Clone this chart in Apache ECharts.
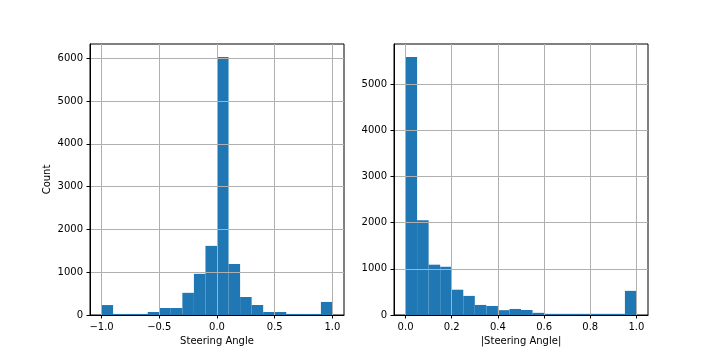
<!DOCTYPE html>
<html>
<head>
<meta charset="utf-8">
<script src="https://cdn.jsdelivr.net/npm/echarts@6/dist/echarts.min.js"></script>
<style>html,body{margin:0;padding:0;background:#fff}#c{width:720px;height:360px}</style>
</head>
<body>
<div id="c"></div>
<script>
// Left histogram: steering angle, 20 bins from -1 to 1
const leftBinEdges = [-1.0,-0.9,-0.8,-0.7,-0.6,-0.5,-0.4,-0.3,-0.2,-0.1,0.0,0.1,0.2,0.3,0.4,0.5,0.6,0.7,0.8,0.9,1.0];
const leftCounts = [232,25,25,25,70,164,164,518,962,1615,6030,1192,421,234,70,70,25,25,25,305];
const leftXTicks = [-1.0,-0.5,0.0,0.5,1.0];
const leftYTicks = [0,1000,2000,3000,4000,5000,6000];

// Right histogram: |steering angle|, 20 bins from 0 to 1
const rightBinEdges = [0.0,0.05,0.1,0.15,0.2,0.25,0.3,0.35,0.4,0.45,0.5,0.55,0.6,0.65,0.7,0.75,0.8,0.85,0.9,0.95,1.0];
const rightCounts = [5592,2055,1090,1045,548,414,218,196,105,131,109,47,25,25,25,25,25,25,25,523];
const rightXTicks = [0.0,0.2,0.4,0.6,0.8,1.0];
const rightYTicks = [0,1000,2000,3000,4000,5000];

const leftXLabel = 'Steering Angle';
const rightXLabel = '|Steering Angle|';
const leftYLabel = 'Count';

function toRows(edges, counts) {
  return counts.map((c, i) => [edges[i], edges[i + 1], c]);
}
function fmt(v) {
  const s = Math.abs(v).toFixed(1);
  return v < 0 ? '\u2212' + s : s;
}
const FONT = 'DejaVu Sans';
const txt = { fontFamily: FONT, fontSize: 10, color: '#000' };

function xAxisOpt(idx, min, max, ticks, name) {
  return {
    type: 'value', gridIndex: idx, min: min, max: max, z: 3,
    name: name, nameLocation: 'middle', nameGap: 19,
    nameTextStyle: Object.assign({}, txt),
    axisLine: { show: true, onZero: false, lineStyle: { color: '#000', width: 1 } },
    axisTick: { show: true, length: 3.5, customValues: ticks, lineStyle: { color: '#000', width: 1 } },
    axisLabel: Object.assign({ margin: 7, customValues: ticks, formatter: fmt }, txt),
    splitLine: { show: true, lineStyle: { color: '#b0b0b0', width: 1 } }
  };
}
function yAxisOpt(idx, max, ticks, name) {
  return {
    type: 'value', gridIndex: idx, min: 0, max: max, z: 3,
    name: name || '', nameLocation: 'middle', nameGap: 38,
    nameTextStyle: Object.assign({}, txt),
    axisLine: { show: true, onZero: false, lineStyle: { color: '#000', width: 1 } },
    axisTick: { show: true, length: 3.5, customValues: ticks, lineStyle: { color: '#000', width: 1 } },
    axisLabel: Object.assign({ margin: 7, customValues: ticks, formatter: function (v) { return String(v); } }, txt),
    splitLine: { show: true, lineStyle: { color: '#b0b0b0', width: 1 } }
  };
}
function histSeries(idx, edges, counts) {
  return {
    type: 'custom', xAxisIndex: idx, yAxisIndex: idx, z: 1,
    data: toRows(edges, counts),
    encode: { x: [0, 1], y: 2 },
    renderItem: function (params, api) {
      const p0 = api.coord([api.value(0), api.value(2)]);
      const p1 = api.coord([api.value(1), 0]);
      return {
        type: 'rect',
        shape: { x: p0[0], y: p0[1], width: p1[0] - p0[0], height: p1[1] - p0[1] },
        style: { fill: '#1f77b4' }
      };
    },
    silent: true
  };
}

const leftMax = Math.max.apply(null, leftCounts) * 1.05;
const rightMax = Math.max.apply(null, rightCounts) * 1.05;

const chart = echarts.init(document.getElementById('c'), null, { renderer: 'canvas' });
chart.setOption({
  animation: false,
  backgroundColor: '#fff',
  grid: [
    { left: 90, right: 376, top: 44, bottom: 45, show: true, borderColor: '#000', borderWidth: 1, backgroundColor: 'transparent' },
    { left: 394, right: 72, top: 44, bottom: 45, show: true, borderColor: '#000', borderWidth: 1, backgroundColor: 'transparent' }
  ],
  xAxis: [
    xAxisOpt(0, -1.1, 1.1, leftXTicks, leftXLabel),
    xAxisOpt(1, -0.05, 1.05, rightXTicks, rightXLabel)
  ],
  yAxis: [
    yAxisOpt(0, leftMax, leftYTicks, leftYLabel),
    yAxisOpt(1, rightMax, rightYTicks)
  ],
  series: [
    histSeries(0, leftBinEdges, leftCounts),
    histSeries(1, rightBinEdges, rightCounts)
  ]
});
</script>
</body>
</html>
